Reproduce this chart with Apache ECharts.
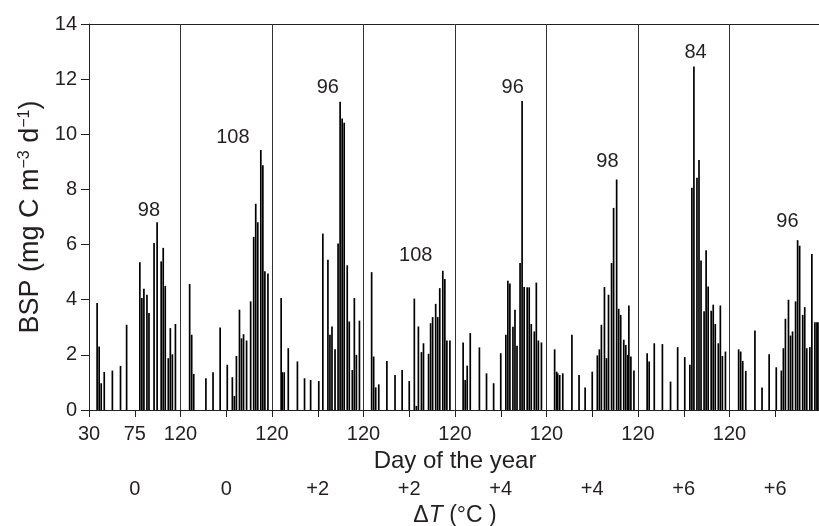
<!DOCTYPE html>
<html><head><meta charset="utf-8">
<script src="https://cdn.jsdelivr.net/npm/echarts@6/dist/echarts.min.js"></script>
<style>html,body{margin:0;padding:0;background:#fff}#c{width:819px;height:526px}</style>
</head><body><div id="c"></div>
<script>
// ΔT scenario of each 90-day panel (days 30–120)
const panelDT = ['0', '0', '+2', '+2', '+4', '+4', '+6', '+6'];

// Day of year and BSP (mg C m-3 d-1) per panel
const days0 = [38, 40, 42, 45, 53, 61, 67, 80, 82, 84, 87, 89, 94, 97, 101, 103, 105, 108, 110, 112, 115];
const bsp0  = [3.88, 2.3, 0.97, 1.38, 1.43, 1.6, 3.09, 5.36, 4.06, 4.4, 4.18, 3.52, 6.06, 6.81, 5.39, 5.88, 4.5, 1.88, 2.97, 2.02, 3.12];

const days1 = [39, 41, 43, 55, 62, 69, 76, 81, 83, 85, 88, 90, 92, 95, 99, 102, 104, 106, 109, 111, 113, 116];
const bsp1  = [4.57, 2.73, 1.31, 1.15, 1.37, 2.99, 1.64, 1.19, 0.51, 1.96, 3.64, 2.6, 2.75, 2.52, 3.94, 6.28, 7.48, 6.81, 9.43, 8.88, 5.03, 4.95];

const days2 = [39, 40, 42, 46, 55, 62, 68, 76, 80, 85, 87, 89, 92, 95, 97, 99, 101, 104, 106, 109, 111, 113, 116];
const bsp2  = [4.06, 1.37, 1.37, 2.24, 1.76, 1.15, 1.09, 1.05, 6.4, 5.45, 2.73, 3.03, 2.2, 6.04, 11.18, 10.57, 10.42, 5.25, 3.21, 1.45, 4.06, 2.0, 3.24];

const days3 = [38, 40, 42, 45, 53, 61, 68, 75, 80, 82, 84, 87, 89, 94, 96, 98, 101, 103, 105, 108, 110, 112, 115];
const bsp3  = [5.0, 1.94, 0.82, 0.93, 1.78, 1.27, 1.45, 1.05, 4.04, 0.15, 3.03, 2.1, 2.42, 2.04, 3.15, 3.37, 3.85, 3.37, 4.42, 5.05, 4.75, 2.52, 2.52];

const days4 = [38, 40, 42, 45, 54, 61, 68, 75, 80, 82, 84, 87, 89, 91, 94, 96, 98, 101, 103, 105, 108, 110, 112, 115];
const bsp4  = [2.45, 1.09, 1.61, 2.79, 2.27, 1.33, 0.97, 2.06, 2.73, 4.69, 4.59, 3.02, 3.64, 2.33, 5.33, 11.21, 4.46, 4.45, 4.45, 3.12, 2.85, 4.62, 2.52, 2.45];

const days5 = [38, 40, 41, 43, 46, 55, 62, 68, 75, 80, 82, 84, 87, 89, 91, 94, 96, 99, 101, 103, 106, 108, 110, 111, 113, 116];
const bsp5  = [2.2, 1.39, 1.33, 1.27, 1.33, 2.73, 1.27, 0.82, 1.39, 1.98, 2.2, 3.09, 4.46, 1.88, 4.18, 5.33, 7.33, 8.36, 3.67, 3.45, 2.55, 2.36, 2.0, 3.79, 1.94, 1.43];

const days6 = [39, 41, 46, 54, 62, 69, 76, 81, 83, 85, 88, 90, 92, 95, 97, 99, 102, 104, 106, 109, 111, 113, 116];
const bsp6  = [2.06, 1.76, 2.42, 2.39, 1.03, 2.28, 1.92, 1.64, 8.06, 12.46, 8.42, 9.07, 5.42, 3.58, 5.79, 4.48, 3.6, 3.82, 3.12, 2.42, 3.79, 1.96, 2.12];

const days7 = [39, 41, 43, 46, 55, 62, 69, 76, 81, 83, 85, 88, 90, 92, 95, 97, 99, 102, 104, 106, 109, 111, 114, 116, 117];
const bsp7  = [2.2, 2.12, 1.78, 1.42, 2.88, 0.82, 2.02, 1.55, 1.43, 2.24, 3.31, 4.0, 2.7, 2.85, 3.94, 6.16, 5.96, 3.45, 3.73, 2.24, 2.28, 5.66, 3.18, 3.18, 3.18];

// Peak-day annotations (text, and anchor in axis units: panel-offset day, BSP)
const peakText   = ['98', '108', '96', '108', '96', '98', '84', '96'];
const peakLabelX = [59, 141.5, 234.9, 321.4, 416.7, 509.9, 596.6, 687];
const peakLabelY = [7.25, 9.87, 11.68, 5.62, 11.68, 9.0, 12.95, 6.85];

// Axis tick labels
const dayTickFirst = {0: '30', 45: '75', 90: '120'};
const dayTickBoundary = '120';

const panelDays = [days0, days1, days2, days3, days4, days5, days6, days7];
const panelBsp  = [bsp0, bsp1, bsp2, bsp3, bsp4, bsp5, bsp6, bsp7];
const PANEL = 90, NP = 8;

const barData = [];
panelDays.forEach((ds, i) => ds.forEach((d, j) => barData.push([i * PANEL + d - 30, panelBsp[i][j]])));
const peakData = peakLabelX.map((x, i) => [x, peakLabelY[i]]);
const sepData = [];
for (let i = 1; i < NP; i++) sepData.push({xAxis: i * PANEL});

const FONT = '"Liberation Sans", Arial, Helvetica, sans-serif';
const INK = '#231f20';

const chart = echarts.init(document.getElementById('c'), null, {renderer: 'canvas'});
chart.setOption({
  animation: false,
  backgroundColor: '#fff',
  textStyle: {fontFamily: FONT, color: INK},
  grid: {left: 89, top: 24, width: 732, bottom: 116, containLabel: false, outerBoundsMode: 'none'},
  xAxis: [
    {
      type: 'value', min: 0, max: PANEL * NP, interval: 45, position: 'bottom',
      axisLine: {show: true, onZero: false, lineStyle: {color: INK, width: 1}},
      axisTick: {show: true, length: 7, inside: false, lineStyle: {color: INK}},
      splitLine: {show: false},
      axisLabel: {
        fontSize: 20, color: INK, fontFamily: FONT, margin: 14, showMaxLabel: false,
        formatter: v => (v in dayTickFirst) ? dayTickFirst[v] : ((v % PANEL === 0 && v < PANEL * NP) ? dayTickBoundary : '')
      },
      name: 'Day of the year', nameLocation: 'middle', nameGap: 39,
      nameTextStyle: {fontSize: 24, color: INK, fontFamily: FONT}
    },
    {
      type: 'category', data: panelDT, position: 'bottom', offset: 58,
      boundaryGap: true,
      axisLine: {show: false}, axisTick: {show: false}, splitLine: {show: false},
      axisLabel: {fontSize: 20, color: INK, fontFamily: FONT, margin: 11, interval: 0},
      name: '{d|Δ}{i|T} (°C )', nameLocation: 'middle', nameGap: 33,
      nameTextStyle: {
        fontSize: 23, color: INK, fontFamily: FONT,
        rich: {
          d: {fontSize: 23, color: INK, fontFamily: FONT},
          i: {fontSize: 23, color: INK, fontFamily: FONT, fontStyle: 'italic'}
        }
      }
    },
    {
      type: 'value', min: 0, max: PANEL * NP, position: 'top',
      axisLine: {show: true, lineStyle: {color: INK, width: 1}},
      axisTick: {show: false}, axisLabel: {show: false}, splitLine: {show: false}
    }
  ],
  yAxis: {
    type: 'value', min: 0, max: 14, interval: 2,
    axisLine: {show: true, lineStyle: {color: INK, width: 1}},
    axisTick: {show: true, length: 8, lineStyle: {color: INK}},
    splitLine: {show: false},
    axisLabel: {fontSize: 20, color: INK, fontFamily: FONT, margin: 12},
    name: 'BSP (mg C m{s|−3} d{s|−1})', nameLocation: 'middle', nameGap: 40, nameRotate: 90,
    nameTextStyle: {
      fontSize: 27, color: INK, fontFamily: FONT,
      rich: {s: {fontSize: 16, color: INK, fontFamily: FONT, verticalAlign: 'top', padding: [0, 0, 4, 0]}}
    }
  },
  series: [
    {
      type: 'bar', xAxisIndex: 0, yAxisIndex: 0, data: barData,
      barWidth: 1.7, itemStyle: {color: '#000'},
      markLine: {
        silent: true, symbol: 'none', label: {show: false},
        lineStyle: {color: '#333', width: 1, type: 'solid'},
        emphasis: {disabled: true},
        data: sepData
      }
    },
    {
      type: 'scatter', xAxisIndex: 0, yAxisIndex: 0, data: peakData,
      symbol: 'circle', symbolSize: 0.1, itemStyle: {color: INK, opacity: 1}, silent: true,
      label: {
        show: true, position: 'inside', fontSize: 20, color: INK, fontFamily: FONT, opacity: 1,
        formatter: p => peakText[p.dataIndex]
      },
      z: 5
    }
  ]
});
</script></body></html>
